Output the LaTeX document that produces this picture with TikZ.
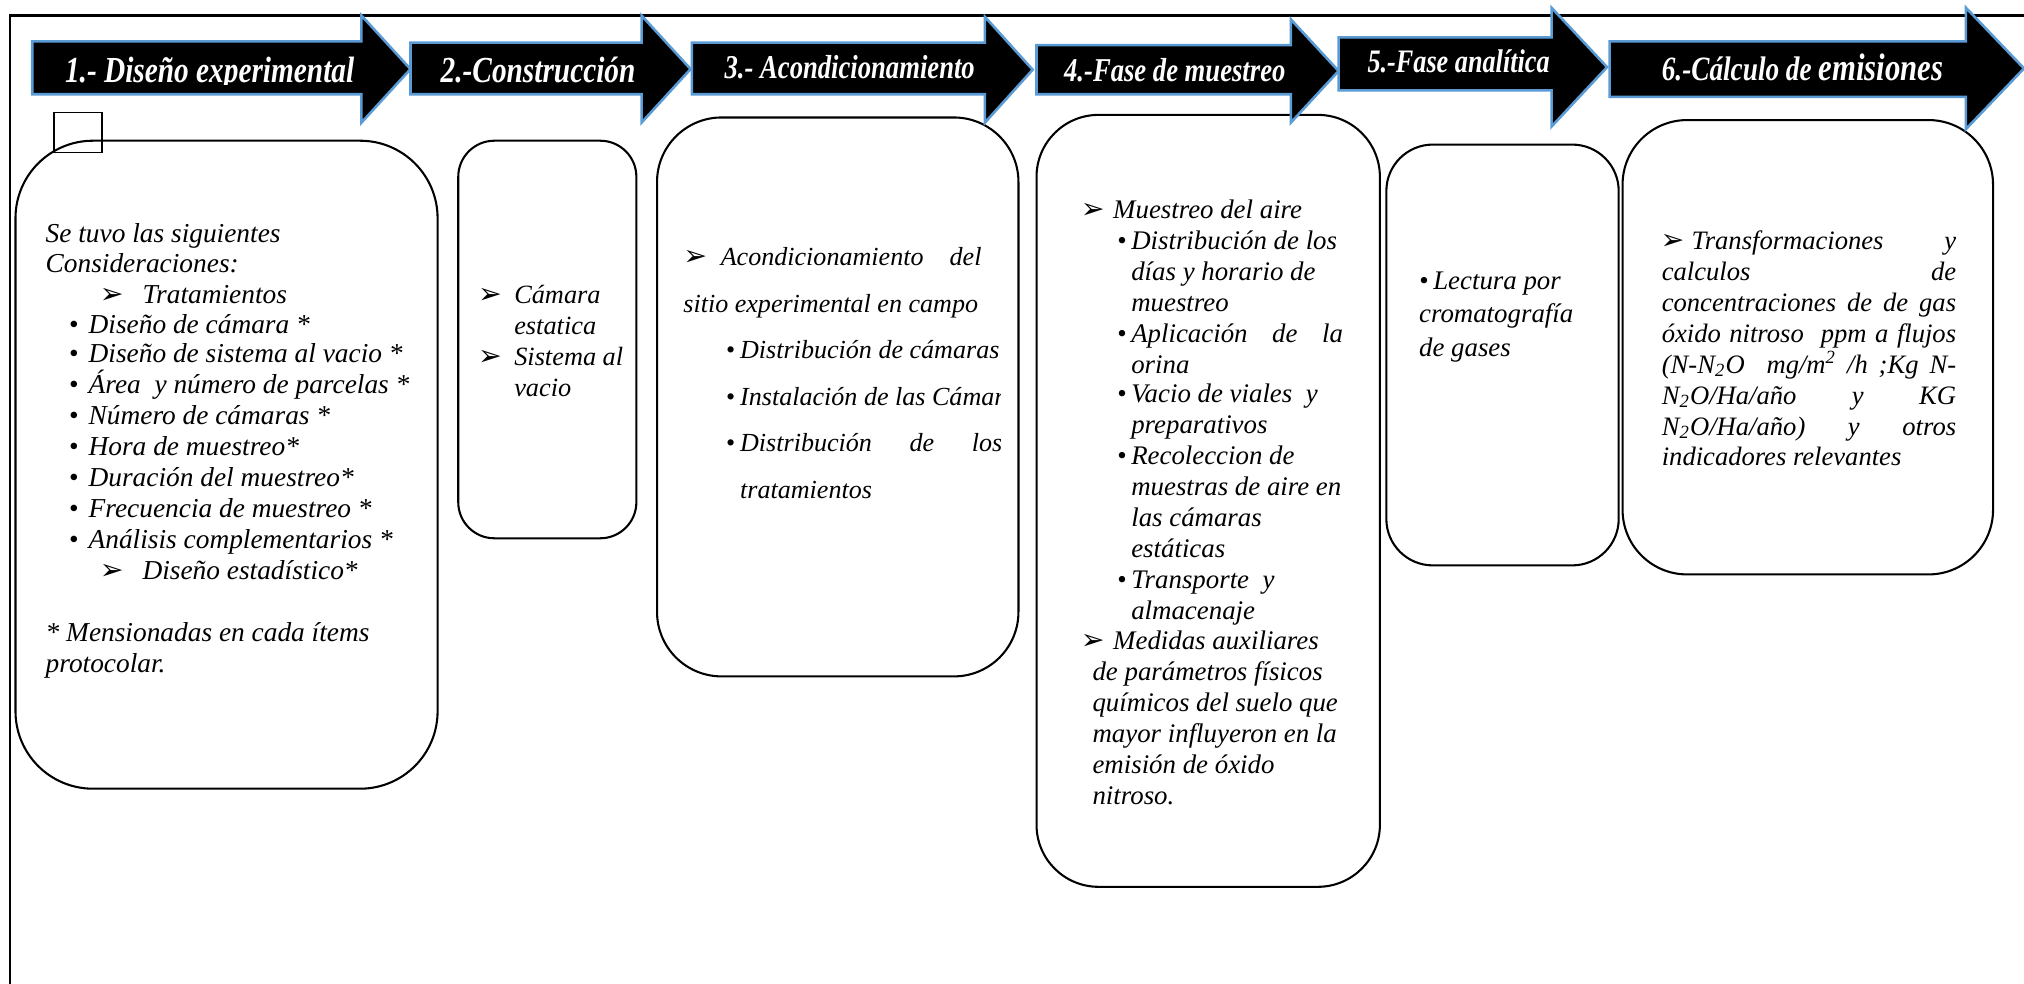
\documentclass[tikz,border=0pt]{standalone}
\usepackage{fontspec}
\setmainfont{Liberation Serif}
\newfontfamily\arrfont[FakeStretch=0.8]{Liberation Serif}
\newfontfamily\symfont{DejaVu Sans}
\definecolor{arrblue}{HTML}{5B9BD5}
\def\bodysize{10.3}
\newcommand\ah{{\symfont\fontsize{11}{12}\selectfont ➢}}
\newcommand\bul[1][5.5pt]{\makebox[#1][l]{•}}
\newcommand\pf[1]{\arrfont\bfseries\itshape\fontsize{#1}{16}\selectfont}
\newcommand\pharrow[8]{%
  \draw[phase] (#1,#4) -- (#2,#4) -- (#2,#6) -- (#3,#8) -- (#2,#7) -- (#2,#5) -- (#1,#5) -- cycle;}
\newcommand\tx[4]{\node[txt] (#1) at (#2,#3) {#4};}
\begin{document}
\begin{tikzpicture}[x=0.5pt,y=-0.5pt,
  frame/.style={line width=0.9pt},
  rbox/.style={draw, line width=0.8pt, inner sep=0pt, outer sep=0pt},
  phase/.style={fill=black, draw=arrblue, line width=1pt, line join=miter},
  ptext/.style={text=white, anchor=base west, inner sep=0pt},
  txt/.style={anchor=base west, inner sep=0pt, font=\itshape\fontsize{\bodysize}{12}\selectfont}]
\useasboundingbox (0,0) rectangle (1568,762);
% frame
\draw[frame] (8,762) -- (8,12) -- (1568,12);
% boxes
\node[rbox, minimum width=163.5pt, minimum height=251pt, rounded corners=30pt] (box1) at (175.5,360) {};
\node[rbox, minimum width=69pt, minimum height=154pt, rounded corners=14pt] (box2) at (424,263) {};
\node[rbox, minimum width=140pt, minimum height=216.5pt, rounded corners=25pt] (box3) at (649,307.5) {};
\node[rbox, minimum width=133pt, minimum height=299pt, rounded corners=24pt] (box4) at (936,388) {};
\node[rbox, minimum width=90pt, minimum height=163pt, rounded corners=18pt] (box5) at (1164,275) {};
\node[rbox, minimum width=143.5pt, minimum height=176pt, rounded corners=25pt] (box6) at (1400.5,269) {};
% small square
\node[draw, line width=0.6pt, minimum width=18.5pt, minimum height=15.5pt, inner sep=0pt] (sq) at (60.5,102.5) {};
% box 1 text
\def\bodysize{10.6}
\tx{a1}{35}{188}{Se tuvo las siguientes}
\tx{a2}{35}{211}{Consideraciones:}
\tx{a3}{77}{235}{\makebox[16.5pt][l]{\ah}Tratamientos}
\tx{a4}{53}{258}{\bul[5pt] Diseño de cámara *}
\tx{a5}{53}{281}{\bul[5pt] Diseño de sistema al vacio *}
\tx{a6}{53}{305}{\bul[5pt] Área\ \ y número de parcelas *}
\tx{a7}{53}{329}{\bul[5pt] Número de cámaras *}
\tx{a8}{53}{353}{\bul[5pt] Hora de muestreo*}
\tx{a9}{53}{377}{\bul[5pt] Duración del muestreo*}
\tx{a10}{53}{401}{\bul[5pt] Frecuencia de muestreo *}
\tx{a11}{53}{425}{\bul[5pt] Análisis complementarios *}
\tx{a12}{77}{449}{\makebox[16.5pt][l]{\ah}Diseño estadístico*}
\tx{a13}{35}{497}{* Mensionadas en cada ítems}
\tx{a14}{35}{521}{protocolar.}
% box 2 text
\def\bodysize{10.2}
\tx{b1}{370}{235}{\makebox[14pt][l]{\ah}Cámara}
\tx{b2}{398}{259}{estatica}
\tx{b3}{370}{283}{\makebox[14pt][l]{\ah}Sistema al}
\tx{b4}{398}{307}{vacio}
% box 3 text
\def\bodysize{10.1}
\begin{scope}
\clip (509,91) rectangle (775,524);
\tx{c1}{529}{206}{\makebox[14.5pt][l]{\ah}\makebox[101pt][s]{Acondicionamiento del}}
\tx{c2}{529}{242}{sitio experimental en campo}
\tx{c3}{562}{278}{\bul Distribución de cámaras}
\tx{c4}{562}{314}{\bul Instalación de las Cámaras}
\tx{c5}{562}{350}{\bul\makebox[101.5pt][s]{Distribución de los}}
\tx{c6}{573}{386}{tratamientos}
\end{scope}
% box 4 text
\def\bodysize{10.4}
\tx{d1}{837}{169}{\makebox[12.5pt][l]{\ah}Muestreo del aire}
\tx{d2}{865}{193}{\bul Distribución de los}
\tx{d3}{876}{217}{días y horario de}
\tx{d4}{876}{241}{muestreo}
\tx{d5}{865}{265}{\bul\makebox[82pt][s]{Aplicación de la}}
\tx{d6}{876}{289}{orina}
\tx{d7}{865}{312}{\bul Vacio de viales\ \ y}
\tx{d8}{876}{336}{preparativos}
\tx{d9}{865}{360}{\bul Recoleccion de}
\tx{d10}{876}{384}{muestras de aire en}
\tx{d11}{876}{408}{las cámaras}
\tx{d12}{876}{432}{estáticas}
\tx{d13}{865}{456}{\bul Transporte\ \ y}
\tx{d14}{876}{480}{almacenaje}
\tx{d15}{837}{503}{\makebox[12.5pt][l]{\ah}Medidas auxiliares}
\tx{d16}{846}{527}{de parámetros físicos}
\tx{d17}{846}{551}{químicos del suelo que}
\tx{d18}{846}{575}{mayor influyeron en la}
\tx{d19}{846}{599}{emisión de óxido}
\tx{d20}{846}{623}{nitroso.}
% box 5 text
\def\bodysize{10.4}
\tx{e1}{1099}{224}{\bul Lectura por}
\tx{e2}{1099}{250}{cromatografía}
\tx{e3}{1099}{276}{de gases}
% box 6 text
\def\bodysize{10.3}
\tx{f1}{1286}{193}{\makebox[12pt][l]{\ah}\makebox[102.5pt][s]{Transformaciones y}}
\tx{f2}{1287}{217}{\makebox[114pt][s]{calculos de}}
\tx{f3}{1287}{241}{\makebox[114pt][s]{concentraciones de de gas}}
\tx{f4}{1287}{265}{\makebox[114pt][s]{óxido nitroso\ \ ppm a flujos}}
\tx{f5}{1287}{289}{\makebox[114pt][s]{(N-N\textsubscript{2}O\ \ mg/m\textsuperscript{2} /h ;Kg N-}}
\tx{f6}{1287}{313}{\makebox[114pt][s]{N\textsubscript{2}O/Ha/año y KG}}
\tx{f7}{1287}{337}{\makebox[114pt][s]{N\textsubscript{2}O/Ha/año) y otros}}
\tx{f8}{1287}{361}{indicadores relevantes}
% phase arrows
\pharrow{25}{280}{318}{32}{73}{12}{95}{53.5}
\pharrow{318}{497}{535}{33}{73}{12}{95}{53.5}
\pharrow{536}{763}{800}{33}{73}{13}{95}{54}
\pharrow{803}{1000}{1037}{35}{73}{15}{95}{55}
\pharrow{1037}{1202}{1245}{29}{70}{6}{98}{52}
\pharrow{1247}{1523}{1568}{32}{75}{6}{100}{53}
\begin{scope}
\clip (25,30) rectangle (280,65.5);
\node[ptext, font=\pf{14.2}] (p1) at (50,64) {1.- Diseño experimental};
\end{scope}
\node[ptext, font=\pf{14.2}] (p2) at (341,64) {2.-Construcción};
\node[ptext, font=\pf{12.9}] (p3) at (561,61) {3.- Acondicionamiento};
\node[ptext, font=\pf{12.9}] (p4) at (824,63) {4.-Fase de muestreo};
\node[ptext, font=\pf{12.7}] (p5) at (1059,56) {5.-Fase analítica};
\node[ptext, font=\pf{13.2}] (p6) at (1287,62) {6.-Cálculo de {\fontsize{14.9}{16}\selectfont emisiones}};
\end{tikzpicture}
\end{document}
